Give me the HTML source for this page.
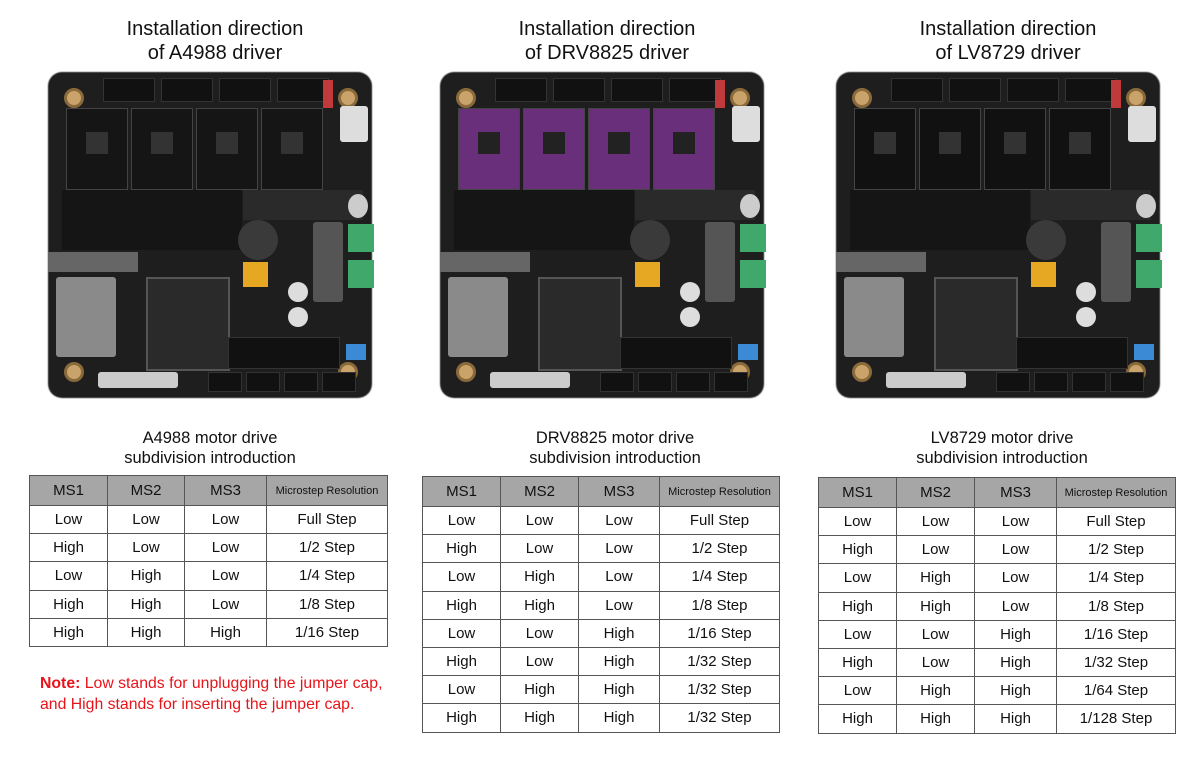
<!DOCTYPE html>
<html><head><meta charset="utf-8"><style>
body{margin:0;width:1200px;height:762px;background:#fff;position:relative;overflow:hidden;font-family:"Liberation Sans","DejaVu Sans",sans-serif}
.ab{position:absolute}
.t{position:absolute;text-align:center;color:#111;font-size:20px;line-height:24px}
.st{position:absolute;text-align:center;color:#111;font-size:16.5px;line-height:20px}
table{position:absolute;border-collapse:collapse;table-layout:fixed}
td{border:1.5px solid #555;text-align:center;font-size:15px;color:#111;padding:0;height:27.2px}
tr.h td{background:#a6a6a6;height:29px}
.note{position:absolute;left:40px;top:673px;color:#e8141a;font-size:15.8px;line-height:21px}
</style></head><body>
<div class="t" style="left:60px;width:310px;top:17px">Installation direction<br>of A4988 driver</div>
<div class="t" style="left:452px;width:310px;top:17px">Installation direction<br>of DRV8825 driver</div>
<div class="t" style="left:853px;width:310px;top:17px">Installation direction<br>of LV8729 driver</div>
<div class="st" style="left:60px;width:300px;top:428px">A4988 motor drive<br>subdivision introduction</div>
<div class="st" style="left:465px;width:300px;top:428px">DRV8825 motor drive<br>subdivision introduction</div>
<div class="st" style="left:852px;width:300px;top:428px">LV8729 motor drive<br>subdivision introduction</div>
<div class="note"><b>Note:</b> Low stands for unplugging the jumper cap,<br>and High stands for inserting the jumper cap.</div>
<div id="root"></div>
<script>
var R=document.getElementById('root');
function add(h){R.insertAdjacentHTML('beforeend',h)}
function box(x,y,w,h,c,extra){add('<div class="ab" style="left:'+x+'px;top:'+y+'px;width:'+w+'px;height:'+h+'px;background:'+c+';'+(extra||'')+'"></div>')}
function board(x,y,dc,dd){
 box(x,y,324,326,'#1e1e1e','border-radius:14px;filter:blur(0.6px)');
 [[16,16],[290,16],[16,290],[290,290]].forEach(function(p){box(x+p[0],y+p[1],20,20,'#c9a36a','border-radius:50%;border:3px solid #8a6a3a;box-sizing:border-box')});
 for(var i=0;i<4;i++)box(x+55+i*58,y+6,50,22,'#111','border:1px solid #333');
 box(x+275,y+8,10,28,'#c0393b');
 box(x+292,y+34,28,36,'#ddd','border-radius:3px');
 for(var i=0;i<4;i++){box(x+18+i*65,y+36,60,80,dc,'border:1px solid #444');box(x+38+i*65,y+60,22,22,dd)}
 box(x+14,y+118,180,60,'#151515');box(x+195,y+118,120,30,'#2a2a2a');
 box(x+300,y+122,20,24,'#ccc','border-radius:50%');
 box(x+190,y+148,40,40,'#3a3a3a','border-radius:50%');
 box(x+300,y+152,26,28,'#3fa86a');box(x+300,y+188,26,28,'#3fa86a');
 box(x+265,y+150,30,80,'#555','border-radius:3px');
 box(x+0,y+180,90,20,'#666');
 box(x+8,y+205,60,80,'#8a8a8a','border-radius:3px');
 box(x+98,y+205,80,90,'#2a2a2a','border:2px solid #555');
 box(x+195,y+190,25,25,'#e6a823');
 box(x+240,y+210,20,20,'#ddd','border-radius:50%');box(x+240,y+235,20,20,'#ddd','border-radius:50%');
 box(x+180,y+265,110,30,'#111','border:1px solid #333');
 box(x+298,y+272,20,16,'#3a8ad6');
 box(x+50,y+300,80,16,'#ccc','border-radius:3px');
 for(var i=0;i<4;i++)box(x+160+i*38,y+300,32,18,'#111','border:1px solid #333');
}
board(48,72,'#151515','#333');
board(440,72,'#6a2f7a','#222');
board(836,72,'#111','#333');
function tbl(x,y,cols,rows){
 var h='<table style="left:'+x+'px;top:'+y+'px"><colgroup>';
 cols.forEach(function(c){h+='<col style="width:'+c+'px">'});
 h+='</colgroup><tr class="h"><td>MS1</td><td>MS2</td><td>MS3</td><td style="font-size:11px">Microstep Resolution</td></tr>';
 rows.forEach(function(r){h+='<tr><td>'+r.join('</td><td>')+'</td></tr>'});
 add(h+'</table>');
}
var base=[['Low','Low','Low','Full Step'],['High','Low','Low','1/2 Step'],['Low','High','Low','1/4 Step'],['High','High','Low','1/8 Step']];
tbl(29,475,[78,77,82,121],base.concat([['High','High','High','1/16 Step']]));
var ext=[['Low','Low','High','1/16 Step'],['High','Low','High','1/32 Step']];
tbl(422,476,[78,78,81,120],base.concat(ext,[['Low','High','High','1/32 Step'],['High','High','High','1/32 Step']]));
tbl(818,477,[78,78,82,119],base.concat(ext,[['Low','High','High','1/64 Step'],['High','High','High','1/128 Step']]));
</script>
</body></html>
